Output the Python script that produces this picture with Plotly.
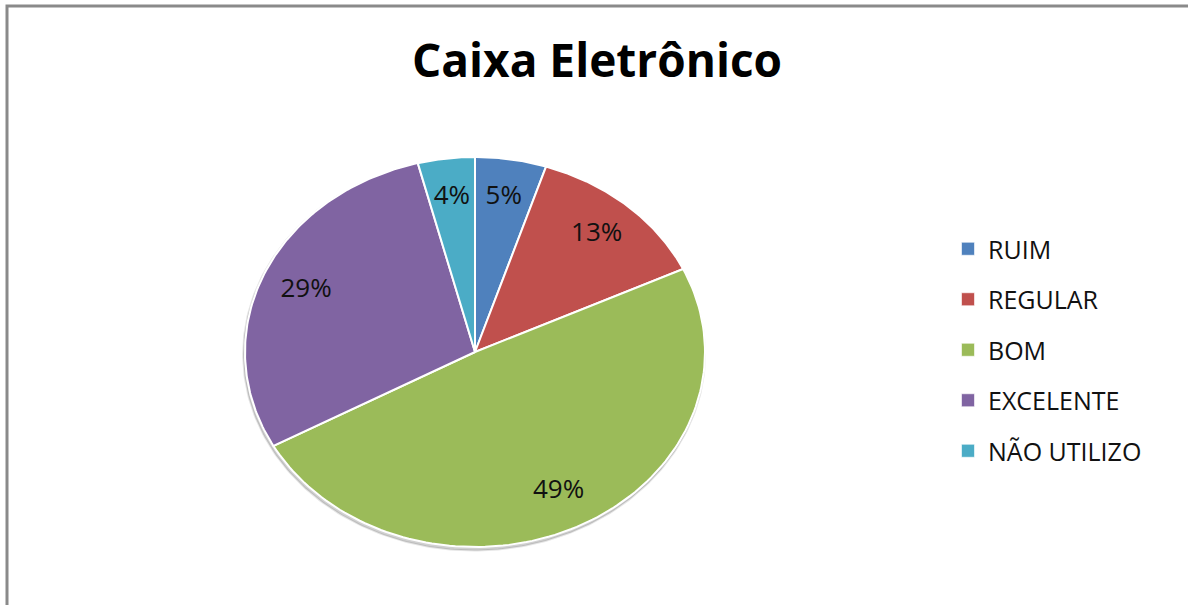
import numpy as np
import plotly.graph_objects as go

# Survey answers for the ATM ("Caixa Eletrônico") question
categories = ["RUIM", "REGULAR", "BOM", "EXCELENTE", "NÃO UTILIZO"]
percentages = [5, 13, 49, 29, 4]
colors = ["#4F81BD", "#C0504D", "#9BBB59", "#8064A2", "#4BACC6"]

W, H = 1188, 605
CX, CY = 475, 352          # pie centre in pixels
RX, RY = 230, 195          # horizontal / vertical radius in pixels
LABEL_R = 0.8              # radial position of the percentage labels

FONT = "'Open Sans', Lato, sans-serif"

fig = go.Figure()

# soft drop shadow under the pie
ts = np.linspace(0, 2 * np.pi, 361)
fig.add_trace(go.Scatter(
    x=np.sin(ts) * 1.004 - 0.004, y=np.cos(ts) * 1.006 - 0.012,
    mode="lines", fill="toself", fillcolor="rgba(0,0,0,0.18)",
    line=dict(color="rgba(0,0,0,0.10)", width=2),
    hoverinfo="skip", showlegend=False,
))

total = float(sum(percentages))
start = 0.0
label_x, label_y, label_txt = [], [], []
for name, val, col in zip(categories, percentages, colors):
    frac0 = start / total
    frac1 = (start + val) / total
    t = np.linspace(frac0, frac1, 120) * 2 * np.pi
    # clockwise from 12 o'clock in unit coordinates
    xs = np.concatenate([[0], np.sin(t), [0]])
    ys = np.concatenate([[0], np.cos(t), [0]])
    fig.add_trace(go.Scatter(
        x=xs, y=ys, mode="lines", fill="toself", fillcolor=col,
        line=dict(color="white", width=2), hoverinfo="skip",
        showlegend=False,
    ))
    mid = (frac0 + frac1) / 2 * 2 * np.pi
    label_x.append(LABEL_R * np.sin(mid))
    label_y.append(LABEL_R * np.cos(mid))
    label_txt.append(f"{val}%")
    start += val

# percentage labels
fig.add_trace(go.Scatter(
    x=label_x, y=label_y, mode="text", text=label_txt,
    textfont=dict(family=FONT, size=26, color="#111111"),
    hoverinfo="skip", showlegend=False,
))

# legend entries
for i, (name, col) in enumerate(zip(categories, colors)):
    fig.add_trace(go.Scatter(
        x=[None], y=[None], mode="markers", name=name,
        marker=dict(symbol="square", size=13, color=col,
                    line=dict(color="rgba(255,255,255,0.6)", width=1)),
        legendgroup=f"g{i}", showlegend=True,
    ))

fig.update_layout(
    width=W, height=H,
    margin=dict(l=0, r=0, t=0, b=0),
    paper_bgcolor="white", plot_bgcolor="white",
    title=dict(
        text="<b>Caixa Eletrônico</b>",
        x=597 / W, xanchor="center",
        y=1 - 61 / H, yanchor="middle",
        font=dict(family=FONT, size=46, color="#000000"),
    ),
    xaxis=dict(range=[-CX / RX, (W - CX) / RX], visible=False, fixedrange=True),
    yaxis=dict(range=[-(H - CY) / RY, CY / RY], visible=False, fixedrange=True),
    legend=dict(
        x=948 / W, y=1 - 226 / H, xanchor="left", yanchor="top",
        font=dict(family=FONT, size=25, color="#111111"),
        tracegroupgap=15, itemwidth=30,
        bgcolor="rgba(0,0,0,0)",
    ),
    shapes=[dict(
        type="rect", xref="paper", yref="paper",
        x0=7 / W, x1=1.02, y0=-0.02, y1=1 - 6 / H,
        line=dict(color="#8a8a8a", width=3),
    )],
)

fig.write_html("out.html")
